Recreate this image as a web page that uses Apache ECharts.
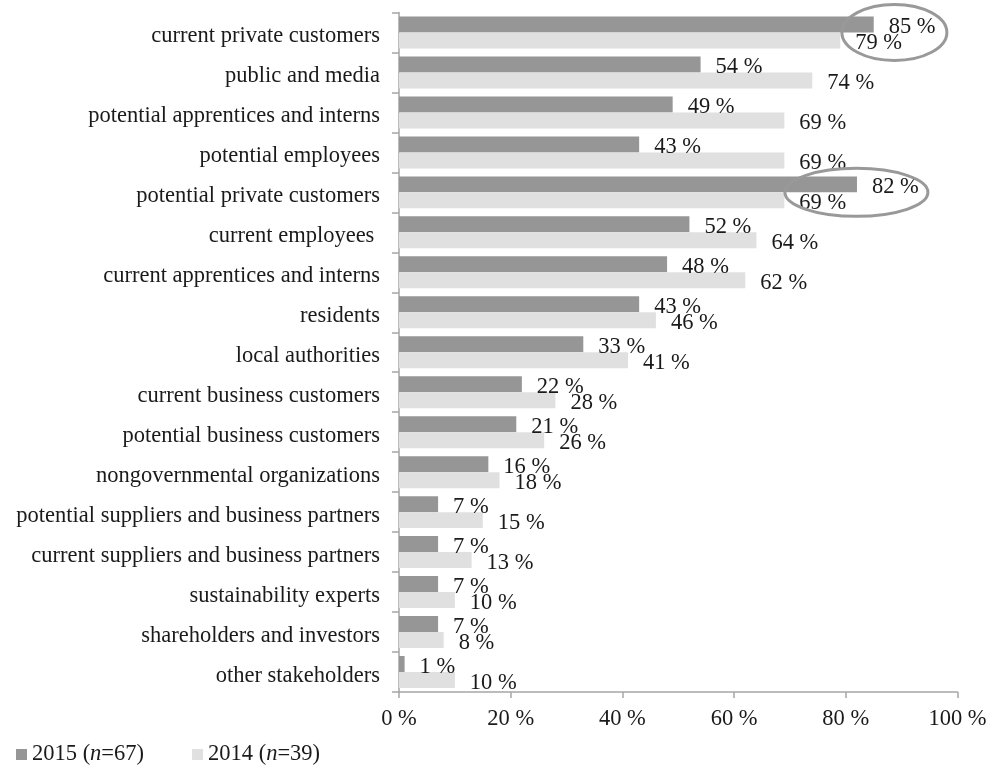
<!DOCTYPE html>
<html>
<head>
<meta charset="utf-8">
<script src="https://cdn.jsdelivr.net/npm/echarts@6/dist/echarts.min.js"></script>
<style>
html,body{margin:0;padding:0;background:#fff;}
#chart{width:1005px;height:772px;}
</style>
</head>
<body>
<div id="chart"></div>
<script>
var categories = [
  "current private customers",
  "public and media",
  "potential apprentices and interns",
  "potential employees",
  "potential private customers",
  "current employees ",
  "current apprentices and interns",
  "residents",
  "local authorities",
  "current business customers",
  "potential business customers",
  "nongovernmental organizations",
  "potential suppliers and business partners",
  "current suppliers and business partners",
  "sustainability experts",
  "shareholders and investors",
  "other stakeholders"
];
var values2015 = [85, 54, 49, 43, 82, 52, 48, 43, 33, 22, 21, 16, 7, 7, 7, 7, 1];
var values2014 = [79, 74, 69, 69, 69, 64, 62, 46, 41, 28, 26, 18, 15, 13, 10, 8, 10];
var seriesNames = ["2015", "2014"];
var seriesN = ["67", "39"];
var xTicks = [0, 20, 40, 60, 80, 100];
// highlighted label pairs: [category index, value at ellipse centre]
var highlights = [[0, 88.7], [4, 81.9]];

var FONT = "'Liberation Serif', 'Times New Roman', serif";
var FS = 22.5;
var chart = echarts.init(document.getElementById('chart'), null, {renderer: 'canvas'});

var option = {
  animation: false,
  backgroundColor: '#ffffff',
  textStyle: {fontFamily: FONT},
  grid: {left: 399, right: 47.5, top: 12.5, bottom: 80, containLabel: false},
  legend: {
    left: 16,
    bottom: 6,
    padding: 0,
    itemWidth: 11,
    itemHeight: 11,
    itemGap: 48,
    icon: 'rect',
    data: seriesNames,
    formatter: function (name) {
      var i = seriesNames.indexOf(name);
      return name + ' ({i|n}=' + seriesN[i] + ')';
    },
    textStyle: {
      fontFamily: FONT, fontSize: FS, color: '#1a1a1a',
      rich: {i: {fontFamily: FONT, fontSize: FS, fontStyle: 'italic', color: '#1a1a1a'}}
    }
  },
  xAxis: {
    type: 'value',
    min: xTicks[0],
    max: xTicks[xTicks.length - 1],
    interval: xTicks[1] - xTicks[0],
    axisLine: {show: true, lineStyle: {color: '#a6a6a6', width: 1.5}},
    axisTick: {show: true, length: 6, lineStyle: {color: '#a6a6a6', width: 1.5}},
    splitLine: {show: false},
    axisLabel: {
      formatter: '{value} %', fontFamily: FONT, fontSize: FS, color: '#1a1a1a', margin: 16
    }
  },
  yAxis: {
    type: 'category',
    inverse: true,
    data: categories,
    axisLine: {show: true, lineStyle: {color: '#a6a6a6', width: 1.5}},
    axisTick: {show: true, length: 7, lineStyle: {color: '#a6a6a6', width: 1.5}},
    axisLabel: {
      fontFamily: FONT, fontSize: FS, color: '#1a1a1a', margin: 19,
      formatter: function (v) { return '{a|' + v + '}'; },
      rich: {a: {fontFamily: FONT, fontSize: FS, color: '#1a1a1a', padding: [8, 0, 0, 0]}}
    }
  },
  series: [
    {
      name: seriesNames[0], type: 'bar', data: values2015,
      barGap: '0%', barCategoryGap: '20%',
      itemStyle: {color: '#969696'},
      label: {show: true, position: 'right', distance: 15, formatter: '{c} %',
        fontFamily: FONT, fontSize: FS, color: '#1a1a1a', offset: [0, 3]}
    },
    {
      name: seriesNames[1], type: 'bar', data: values2014,
      barGap: '0%', barCategoryGap: '20%',
      itemStyle: {color: '#e0e0e0'},
      label: {show: true, position: 'right', distance: 15, formatter: '{c} %',
        fontFamily: FONT, fontSize: FS, color: '#1a1a1a', offset: [0, 3]}
    }
  ]
};
chart.setOption(option);

var sizes = [[52.5, 28], [71.5, 24]];
var graphics = highlights.map(function (h, k) {
  var p = chart.convertToPixel({gridIndex: 0}, [h[1], categories[h[0]]]);
  return {
    type: 'ellipse', z: 100,
    shape: {cx: p[0], cy: p[1], rx: sizes[k][0], ry: sizes[k][1]},
    style: {fill: 'none', stroke: '#999999', lineWidth: 3}
  };
});
chart.setOption({graphic: graphics});
</script>
</body>
</html>
